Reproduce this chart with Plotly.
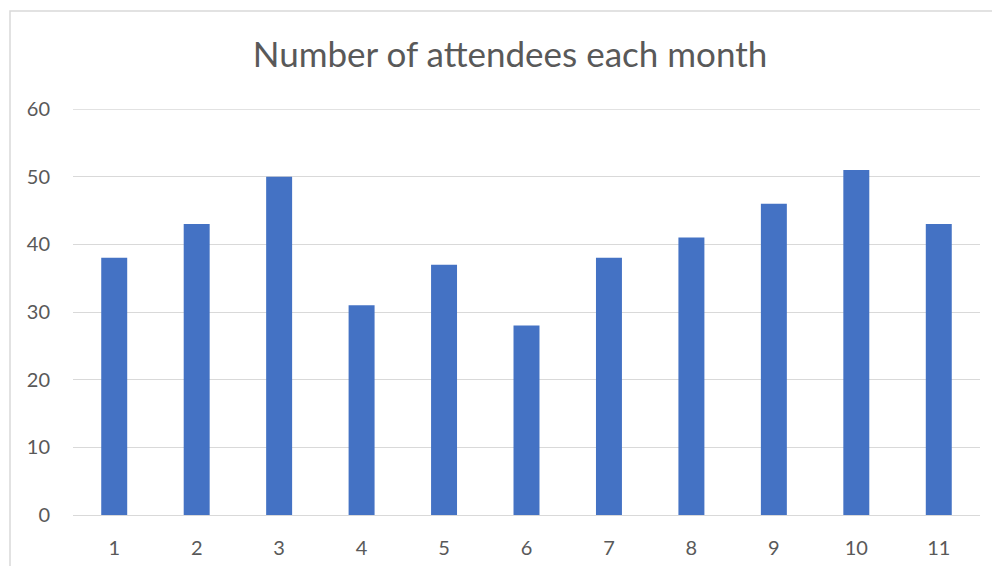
import plotly.graph_objects as go

months = [str(i) for i in range(1, 12)]
attendees = [38, 43, 50, 31, 37, 28, 38, 41, 46, 51, 43]
y_ticks = [0, 10, 20, 30, 40, 50, 60]

# page body has an 8px margin; layout numbers below are in figure coordinates
W, H = 1000, 566
ml, mr, mt, mb = 65, 28, 101, 59
pw, ph = W - ml - mr, H - mt - mb

fig = go.Figure(go.Bar(x=months, y=attendees, marker=dict(color="#4472C4", line=dict(width=0)),
                       hoverinfo="x+y"))

fig.update_layout(
    width=W, height=H,
    margin=dict(l=ml, r=mr, t=mt, b=mb),
    paper_bgcolor="white", plot_bgcolor="white",
    bargap=0.685,
    showlegend=False,
    font=dict(family="Lato, Open Sans, sans-serif", color="#595959"),
    title=dict(text="Number of attendees each month", x=502 / W, xanchor="center", xref="container",
               y=1 - 47 / H, yanchor="middle", yref="container",
               font=dict(size=35, color="#595959", family="Lato, Open Sans, sans-serif")),
    xaxis=dict(type="category", showgrid=False, showline=False, zeroline=False,
               tickfont=dict(size=20, color="#595959"), ticks="", ticklabelstandoff=19),
    yaxis=dict(range=[0, 60], tickvals=y_ticks, showgrid=True, gridcolor="#D9D9D9", gridwidth=1.3,
               zeroline=True, zerolinecolor="#D9D9D9", zerolinewidth=1.3, showline=False,
               tickfont=dict(size=20, color="#595959"), ticks="", ticklabelstandoff=22),
    shapes=[
        dict(type="rect", xref="paper", yref="paper",
             x0=(2 - ml) / pw, x1=(1010 - ml) / pw,
             y0=(H - 580 - mb) / ph, y1=(H - 3 - mb) / ph,
             line=dict(color="#D9D9D9", width=1.5), fillcolor="rgba(0,0,0,0)", layer="below"),
        dict(type="line", xref="paper", yref="y", x0=0, x1=1, y0=y_ticks[-1], y1=y_ticks[-1],
             line=dict(color="#D9D9D9", width=1.3), layer="below"),
    ],
)

fig.write_html("out.html")
